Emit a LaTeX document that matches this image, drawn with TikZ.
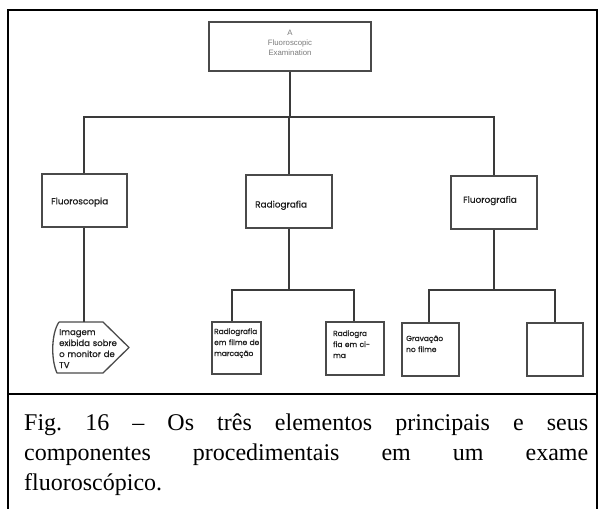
\documentclass[tikz,border=0pt]{standalone}
\usepackage{fontspec}
\setmainfont{Liberation Serif}
\newfontfamily\gothic[FakeBold=0.8]{Poppins}
\newfontfamily\helv{Liberation Sans}
\definecolor{boxline}{HTML}{4A4A4A}
\definecolor{linkline}{HTML}{3A3A3A}
\definecolor{lighttext}{HTML}{7A7A7A}
\definecolor{darktext}{HTML}{1E1E1E}
\frenchspacing
\begin{document}
\begin{tikzpicture}[x=1pt,y=-1pt,
  frameline/.style={line width=2.4pt,black},
  chartbox/.style={draw=boxline,line width=1.3pt,rectangle,inner sep=0pt},
  link/.style={draw=linkline,line width=1.3pt},
  headtext/.style={inner sep=0pt,anchor=base,text width=100pt,align=center,
    text=lighttext,font=\helv\fontsize{7.8}{10}\selectfont},
  maintext/.style={inner sep=0pt,anchor=base west,text=darktext,
    font=\gothic\fontsize{8.9}{11}\selectfont},
  subtext/.style={inner sep=0pt,anchor=base west,text width=70pt,align=left,
    text=darktext,font=\gothic\fontsize{7.4}{11}\selectfont}]
\useasboundingbox (0,0) rectangle (604,508);

% page frame and caption rule
\draw[frameline] (8,520) -- (8,10) -- (597,10) -- (597,520);
\draw[frameline] (8,394) -- (597,394);

% top level
\node[chartbox,minimum width=162pt,minimum height=49pt] (top) at (290,46.5) {};
\node[headtext] (toptext) at (290,35.5) {A\\Fluoroscopic\\Examination};

% second level
\node[chartbox,minimum width=85pt,minimum height=53pt] (fsc) at (84.5,200.5) {};
\node[chartbox,minimum width=86pt,minimum height=53pt] (rad) at (289,201.5) {};
\node[chartbox,minimum width=86pt,minimum height=53pt] (flg) at (494,202.5) {};
\node[maintext] (fsctext) at (51,204.3) {Fluoroscopia};
\node[maintext] (radtext) at (255,207.5) {Radiografia};
\node[maintext] (flgtext) at (463,202.8) {Fluorografia};

% third level: display symbol under Fluoroscopia
\coordinate (dspN) at (84,322);
\draw[draw=boxline,line width=1.3pt,line join=round]
  (59,322) -- (103,322) -- (129,347.5) -- (103,373) -- (57,373)
  .. controls (51,360) and (51,334) .. (59,322);
\node[subtext,font=\gothic\fontsize{8.5}{11}\selectfont] (dsptext) at (59,335)
  {Imagem\\exibida sobre\\o monitor de\\TV};

\node[chartbox,minimum width=49pt,minimum height=52pt] (rfm) at (236.5,348) {};
\node[chartbox,minimum width=58pt,minimum height=53pt] (rcm) at (355,348.5) {};
\node[chartbox,minimum width=57pt,minimum height=53pt] (grv) at (430.5,349.5) {};
\node[chartbox,minimum width=56pt,minimum height=53pt] (emp) at (555,349.5) {};
\node[subtext] (rfmtext) at (214,334) {Radiografia\\em filme de\\marcação};
\node[subtext] (rcmtext) at (333,336) {Radiogra\\fia em ci-\\ma};
\node[subtext] (grvtext) at (406,341) {Gravação\\no filme};

% connectors
\coordinate (busL) at (84,117);
\coordinate (busR) at (494,117);
\draw[link] (top.south) -- (top.south |- busL);
\draw[link] (fsc.north -| busL) -- (busL) -- (busR) -- (flg.north);
\draw[link] (rad.north) -- (rad.north |- busL);

\draw[link] (fsc.south -| dspN) -- (dspN);

\coordinate (radL) at (232,290);
\coordinate (radR) at (354,290);
\draw[link] (rad.south) -- (rad.south |- radL);
\draw[link] (rfm.north -| radL) -- (radL) -- (radR) -- (rcm.north -| radR);

\coordinate (flgL) at (429,290);
\coordinate (flgR) at (555,290);
\draw[link] (flg.south) -- (flg.south |- flgL);
\draw[link] (grv.north -| flgL) -- (flgL) -- (flgR) -- (emp.north);

% caption, justified over three lines
\node[inner sep=0pt,anchor=base west,text width=564pt,align=justify,
  font=\fontsize{24}{30}\selectfont] (caption) at (24,430)
  {\tolerance=10000 \hyphenpenalty=10000 Fig. 16 – Os três elementos principais e seus\linebreak
   componentes procedimentais em um exame\linebreak
   fluoroscópico.};
\end{tikzpicture}
\end{document}
